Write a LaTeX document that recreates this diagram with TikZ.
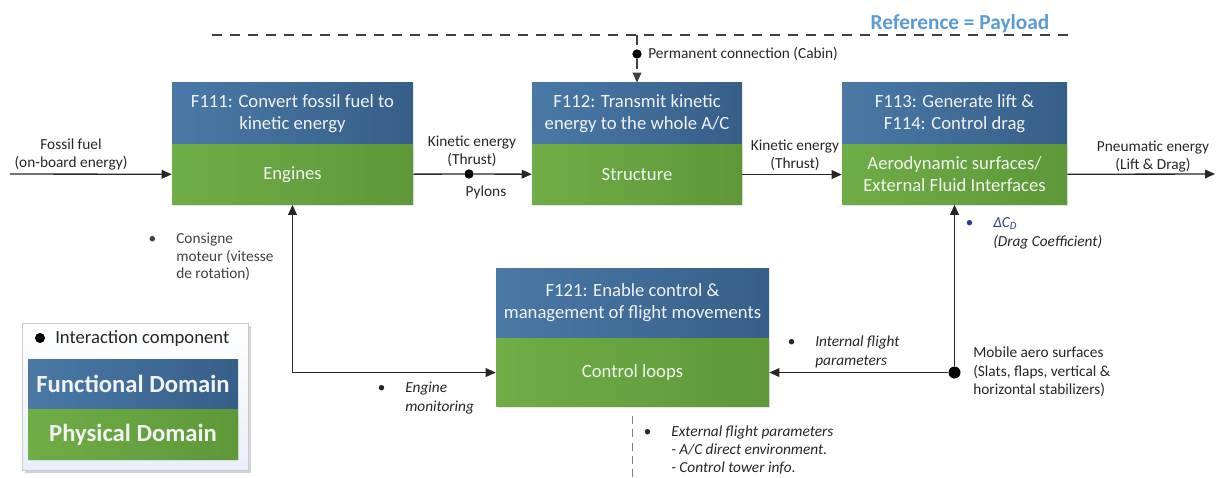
\documentclass[tikz,border=0pt]{standalone}
\usepackage{fontspec}
\setmainfont{Carlito}
\usetikzlibrary{arrows.meta,positioning,shadows}

\definecolor{funcL}{HTML}{4A79A7}
\definecolor{funcR}{HTML}{365F88}
\definecolor{physL}{HTML}{6FAD46}
\definecolor{physR}{HTML}{5E9839}
\definecolor{boxtxt}{HTML}{F2F2F2}
\definecolor{lineclr}{HTML}{262626}
\definecolor{dashclr}{HTML}{404040}
\definecolor{titleblue}{HTML}{5B9BD5}
\definecolor{navy}{HTML}{2E3F8F}
\definecolor{legbg}{HTML}{E9EFF8}

\newcommand{\stack}[2][c]{\begin{tabular}[t]{@{}#1@{}}#2\end{tabular}}
\newcommand{\bul}{\llap{\textbullet\hspace{15pt}}}

\begin{document}
\begin{tikzpicture}[x=0.75pt, y=-0.75pt,
  func/.style={left color=funcL, right color=funcR, text=boxtxt, align=center,
    inner sep=0pt, minimum height=45.75pt, font=\fontsize{14}{16.5}\selectfont},
  phys/.style={left color=physL, right color=physR, text=boxtxt, align=center,
    inner sep=0pt, minimum height=45pt, font=\fontsize{14}{16.5}\selectfont,
    drop shadow={shadow xshift=1pt, shadow yshift=-1pt, opacity=0.2}},
  icomp/.style={circle, fill=black, inner sep=0pt, minimum size=7pt},
  lbl/.style={inner sep=0pt, text=lineclr, font=\fontsize{11.5}{13.5}\selectfont},
  ilbl/.style={lbl, font=\fontsize{11.5}{14.25}\selectfont\itshape},
  flow/.style={draw=lineclr, line width=1pt, -{Triangle[length=7.5pt,width=6.5pt]}},
  payline/.style={draw=dashclr, line width=1.2pt, dash pattern=on 7.5pt off 6pt},
  extline/.style={draw=black!50, line width=1pt, dash pattern=on 6pt off 4pt},
  legend/.style={draw=black!20, top color=white, bottom color=legbg,
    minimum width=169.5pt, minimum height=110.25pt,
    drop shadow={shadow xshift=2pt, shadow yshift=-2pt, opacity=0.35}},
  legfunc/.style={func, minimum width=157.5pt, minimum height=37.5pt,
    font=\fontsize{18.5}{20}\selectfont\bfseries},
  legphys/.style={phys, minimum width=157.5pt, minimum height=37.5pt,
    font=\fontsize{18.5}{20}\selectfont\bfseries, drop shadow={opacity=0}}
]
\useasboundingbox (0,0) rectangle (1220,478);

% Function / physical blocks
\node[func, minimum width=180.75pt] (f111) at (292.5,113.5) {F111: Convert fossil fuel to\\kinetic energy};
\node[phys, minimum width=180.75pt, below=0pt of f111] (engines) {Engines};
\node[func, minimum width=157.5pt] (f112) at (637,113.5) {F112: Transmit kinetic\\energy to the whole A/C};
\node[phys, minimum width=157.5pt, below=0pt of f112] (structure) {Structure};
\node[func, minimum width=168.75pt] (f113) at (954.5,113.5) {F113: Generate lift \&\\F114: Control drag};
\node[phys, minimum width=168.75pt, below=0pt of f113] (aero) {Aerodynamic surfaces/\\External Fluid Interfaces};
\node[func, minimum width=204.75pt, minimum height=52.5pt] (f121) at (632.5,303) {F121: Enable control \&\\management of flight movements};
\node[phys, minimum width=204.75pt, minimum height=51pt, below=0pt of f121] (ctl) {Control loops};

% Payload reference line
\coordinate (payL) at (212,35);
\coordinate (payR) at (1068,35);
\draw[payline] (payL) -- (payR);
\node[inner sep=0pt, anchor=base, text=titleblue, font=\fontsize{16}{18}\selectfont\bfseries] (payload) at (960,30) {Reference = Payload};
\coordinate (cabin) at (f112.north |- payL);
\node[icomp] (pdot) at (637,54) {};
\draw[payline, line width=1pt] (cabin) -- (pdot);
\draw[payline, line width=1pt, -{Triangle[length=7.5pt,width=6.5pt]}] (pdot) -- (f112.north);
\node[lbl, anchor=base west] (cabtxt) at (648,58.5) {Permanent connection (Cabin)};

% Energy chain
\coordinate (fuel) at (10,174);
\coordinate (pneu) at (1215,174);
\node[icomp] (pylon) at (469,174) {};
\draw[flow] (fuel) -- (engines);
\draw[flow, -] (engines) -- (pylon);
\draw[flow] (pylon) -- (structure);
\draw[flow] (structure) -- (aero);
\draw[flow] (aero) -- (pneu);
\node[lbl, anchor=base] (fueltxt) at (71,149.5) {\stack{Fossil fuel\\(on-board energy)}};
\node[lbl, anchor=base] (kin1) at (472,146.5) {\stack{Kinetic energy\\(Thrust)}};
\node[lbl, anchor=base] (pyltxt) at (486,196.5) {Pylons};
\node[lbl, anchor=base] (kin2) at (795,150.5) {\stack{Kinetic energy\\(Thrust)}};
\node[lbl, anchor=base] (pneutxt) at (1153,151.5) {\stack{Pneumatic energy\\(Lift \& Drag)}};

% Control loops
\draw[flow, {Triangle[length=7.5pt,width=6.5pt]}-{Triangle[length=7.5pt,width=6.5pt]}] (engines) |- (ctl);
\node[icomp, minimum size=9pt] (mobile) at (aero |- ctl) {};
\draw[flow] (mobile) -- (aero);
\draw[flow] (mobile) -- (ctl);
\coordinate (extenv) at (632.5,478);
\draw[extline, shorten <=7pt] (ctl) -- (extenv);

\node[lbl, text=black!75, anchor=base west, font=\fontsize{11.5}{13.2}\selectfont] (consigne) at (176,243.5) {\bul\stack[l]{Consigne\\moteur (vitesse\\de rotation)}};
\node[ilbl, anchor=base west] (engmon) at (405,392) {\bul\stack[l]{Engine\\monitoring}};
\node[ilbl, anchor=base west] (intpar) at (815,346.5) {\bul\stack[l]{Internal flight\\parameters}};
\node[ilbl, anchor=base west] (dcd) at (993,227.5) {\textcolor{navy}{\bul}\stack[l]{\textcolor{navy}{ΔC\textsubscript{D}}\\(Drag Coefficient)}};
\node[lbl, anchor=base west, font=\fontsize{11.5}{13.9}\selectfont] (mobtxt) at (973,357.5) {\stack[l]{Mobile aero surfaces\\(Slats, flaps, vertical \&\\horizontal stabilizers)}};
\node[ilbl, anchor=base west, font=\fontsize{11.5}{13.5}\selectfont\itshape] (extpar) at (671,436.5) {\bul\stack[l]{External flight parameters\\- A/C direct environment.\\- Control tower info.}};

% Legend
\node[legend] (legend) at (135,396.5) {};
\node[icomp, minimum size=7.5pt] (legdot) at (40,338) {};
\node[lbl, anchor=base west, font=\fontsize{14}{16}\selectfont] (legtxt) at (55,343.5) {Interaction component};
\node[legfunc] (legf) at (133,384) {Functional Domain};
\node[legphys, below=0pt of legf] (legp) {Physical Domain};

\end{tikzpicture}
\end{document}
